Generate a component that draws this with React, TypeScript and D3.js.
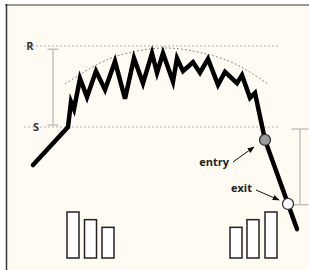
import { useEffect, useRef } from 'react';
import * as d3 from 'd3';

// price path (time in sessions, price as % of the S..R range)
const priceTime = [0, 17.5, 19, 20.5, 23.5, 27, 31.5, 36, 41, 46, 50.5, 55, 59.5, 62, 65, 70, 72, 75, 80, 83.5, 87.5, 92.5, 96, 102, 104.5, 108.5, 111, 116, 132];
const priceValue = [-47, 0, 31, 22, 60, 37, 69, 46, 81, 35, 85, 54, 91, 67, 91, 56, 85, 69, 80, 67, 84, 52, 68, 54, 64, 36, 42, -16, -126];

// dotted rounding-top arc
const arcTime = [16, 33.5, 48.5, 66, 83.5, 101, 117.5];
const arcValue = [53, 79, 92, 97.5, 92, 78, 53];

// support / resistance
const levelNames = ['R', 'S'];
const levelValues = [100, 0];

// volume bars
const volTime = [20, 28.75, 37.5, 101.5, 110, 119];
const volValue = [30, 25, 20, 20, 25, 30];

// trade markers
const markerNames = ['entry', 'exit'];
const markerTime = [116, 127.5];
const markerValue = [-16, -95];

export default function App() {
  const svgRef = useRef<SVGSVGElement>(null);
  const width = 309;
  const height = 270;

  useEffect(() => {
    if (!svgRef.current) return;
    const svg = d3.select(svgRef.current);
    svg.selectAll('*').remove();

    const x = d3.scaleLinear().domain([0, 132]).range([33, 297]);
    const y = d3.scaleLinear().domain([0, 100]).range([127, 46]);
    const vol = d3.scaleLinear().domain([0, 30]).range([0, 46]);
    const volBase = 258;
    const barW = x(6) - x(0);

    // frame
    svg.append('rect').attr('width', width).attr('height', height).attr('fill', '#ffffff');
    svg.append('rect').attr('x', 6).attr('y', 5).attr('width', width - 6).attr('height', height - 5).attr('fill', '#fffbf2');
    svg.append('line').attr('x1', 5).attr('x2', width).attr('y1', 5).attr('y2', 5)
      .attr('stroke', '#9a9a9a').attr('stroke-width', 2);
    svg.append('line').attr('x1', 6.5).attr('x2', 6.5).attr('y1', 4).attr('y2', height)
      .attr('stroke', '#333').attr('stroke-width', 1.5);

    // support / resistance lines
    levelValues.forEach((v, i) => {
      svg.append('line')
        .attr('x1', x(-4.5)).attr('x2', x(123.5))
        .attr('y1', y(v)).attr('y2', y(v))
        .attr('stroke', '#b5b5b5').attr('stroke-width', 1)
        .attr('stroke-dasharray', '2,2');
      svg.append('text')
        .attr('x', i === 0 ? 30 : 36)
        .attr('y', y(v))
        .attr('dy', '0.36em')
        .attr('text-anchor', 'middle')
        .attr('font-family', 'Open Sans, sans-serif')
        .attr('font-weight', 'bold')
        .attr('font-size', 11)
        .attr('fill', '#333')
        .text(levelNames[i]);
    });

    // range markers (height of pattern, projected target)
    const ranges = [
      { t: 10, from: 96, to: 2.5, cap: 5.5 },
      { t: 133.5, from: -2.5, to: -96, cap: 8.5 },
    ];
    ranges.forEach(r => {
      const g = svg.append('g').attr('stroke', '#c2c2c2').attr('stroke-width', 1.5);
      g.append('line').attr('x1', x(r.t)).attr('x2', x(r.t)).attr('y1', y(r.from)).attr('y2', y(r.to));
      [r.from, r.to].forEach(v => {
        g.append('line').attr('x1', x(r.t) - r.cap).attr('x2', x(r.t) + r.cap)
          .attr('y1', y(v)).attr('y2', y(v));
      });
    });

    // rounding arc
    const arcLine = d3.line<number>()
      .x((_, i) => x(arcTime[i]))
      .y(d => y(d))
      .curve(d3.curveNatural);
    svg.append('path')
      .attr('d', arcLine(arcValue))
      .attr('fill', 'none')
      .attr('stroke', '#8a8a8a')
      .attr('stroke-width', 1)
      .attr('stroke-dasharray', '2,2');

    // volume bars
    svg.selectAll('.vol')
      .data(volValue)
      .enter()
      .append('rect')
      .attr('x', (_, i) => x(volTime[i]) - barW / 2)
      .attr('y', d => volBase - vol(d))
      .attr('width', barW)
      .attr('height', d => vol(d))
      .attr('fill', '#fff')
      .attr('stroke', '#222')
      .attr('stroke-width', 1.5);

    // price line
    const priceLine = d3.line<number>()
      .x((_, i) => x(priceTime[i]))
      .y(d => y(d));
    svg.append('path')
      .attr('d', priceLine(priceValue))
      .attr('fill', 'none')
      .attr('stroke', '#000')
      .attr('stroke-width', 4.5)
      .attr('stroke-linejoin', 'miter')
      .attr('stroke-linecap', 'round');

    // arrows
    const defs = svg.append('defs');
    defs.append('marker')
      .attr('id', 'arrow')
      .attr('viewBox', '0 0 10 10')
      .attr('refX', 9).attr('refY', 5)
      .attr('markerWidth', 7).attr('markerHeight', 7)
      .attr('orient', 'auto')
      .append('path')
      .attr('d', 'M0,1 L10,5 L0,9 Z')
      .attr('fill', '#111');

    const labelPos = [
      { tx: 229, ty: 166, ax1: 233, ay1: 162, ax2: 254, ay2: 147 },
      { tx: 252, ty: 192, ax1: 256, ay1: 190, ax2: 279, ay2: 200 },
    ];
    markerNames.forEach((name, i) => {
      const p = labelPos[i];
      svg.append('text')
        .attr('x', p.tx).attr('y', p.ty)
        .attr('text-anchor', 'end')
        .attr('font-family', 'Open Sans, sans-serif')
        .attr('font-weight', 'bold')
        .attr('font-size', 11)
        .attr('fill', '#222')
        .text(name);
      svg.append('line')
        .attr('x1', p.ax1).attr('y1', p.ay1)
        .attr('x2', p.ax2).attr('y2', p.ay2)
        .attr('stroke', '#111').attr('stroke-width', 1)
        .attr('marker-end', 'url(#arrow)');
    });

    // entry / exit points
    svg.selectAll('.pt')
      .data(markerValue)
      .enter()
      .append('circle')
      .attr('cx', (_, i) => x(markerTime[i]))
      .attr('cy', d => y(d))
      .attr('r', 5.5)
      .attr('fill', (_, i) => (i === 0 ? '#9b9b9b' : '#fff'))
      .attr('stroke', '#333')
      .attr('stroke-width', 1.3);
  }, []);

  return (
    <svg
      ref={svgRef}
      width={width}
      height={height}
      style={{ position: 'absolute', left: 0, top: 0 }}
    />
  );
}
